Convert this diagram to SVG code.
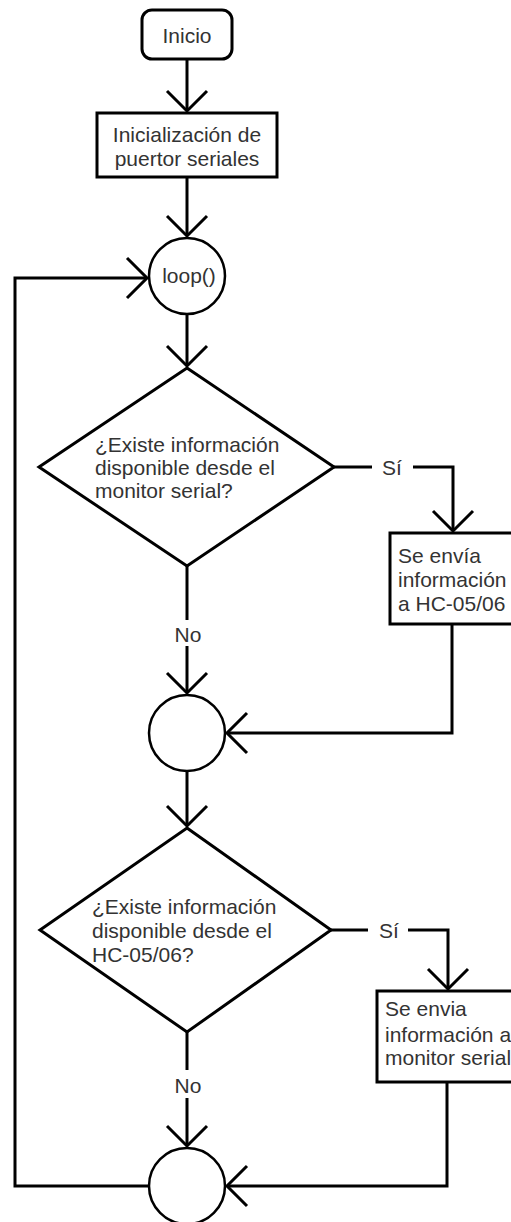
<svg xmlns="http://www.w3.org/2000/svg" width="511" height="1222" viewBox="0 0 511 1222">
<style>
.s{fill:#fff;stroke:#000;stroke-width:3}
.c{fill:#fff;stroke:#000;stroke-width:2.5}
.ln{fill:none;stroke:#000;stroke-width:3}
text{font-family:"Liberation Sans",Arial,sans-serif;font-size:21px;fill:#333}
.m{text-anchor:middle}
</style>
<defs>
<marker id="a" markerUnits="userSpaceOnUse" viewBox="-24 -24 28 48" markerWidth="28" markerHeight="48" refX="0" refY="0" orient="auto" overflow="visible">
<path d="M-20,-20 L0,0 L-20,20" fill="none" stroke="#000" stroke-width="3"/>
</marker>
</defs>
<rect width="511" height="1222" fill="#fff"/>
<g id="connectors">
<path class="ln" d="M187,59 V111" marker-end="url(#a)"/>
<path class="ln" d="M187,177 V236" marker-end="url(#a)"/>
<path class="ln" d="M149,1186 H15 V278 H147" marker-end="url(#a)"/>
<path class="ln" d="M187,314 V366" marker-end="url(#a)"/>
<path class="ln" d="M334,467 H372"/>
<path class="ln" d="M413,467 H453 V531" marker-end="url(#a)"/>
<path class="ln" d="M187,566 V620"/>
<path class="ln" d="M187,646 V693" marker-end="url(#a)"/>
<path class="ln" d="M452,624 V733 H227" marker-end="url(#a)"/>
<path class="ln" d="M187,771 V826" marker-end="url(#a)"/>
<path class="ln" d="M331,930 H368"/>
<path class="ln" d="M408,930 H448 V989" marker-end="url(#a)"/>
<path class="ln" d="M187,1032 V1070"/>
<path class="ln" d="M187,1098 V1146" marker-end="url(#a)"/>
<path class="ln" d="M447,1082 V1186 H227" marker-end="url(#a)"/>
<text class="m" x="392" y="475">Sí</text>
<text class="m" x="389" y="938">Sí</text>
<text class="m" x="188" y="642">No</text>
<text class="m" x="188" y="1093">No</text>
</g>
<g id="inicio">
<rect class="s" x="142" y="10" width="90" height="49" rx="10"/>
<text class="m" x="187" y="43">Inicio</text>
</g>
<g id="init">
<rect class="s" x="97" y="113" width="180" height="64"/>
<text class="m" x="187" y="142">Inicialización de</text>
<text class="m" x="187" y="166">puertor seriales</text>
</g>
<g id="loop">
<circle class="c" cx="187" cy="276" r="38"/>
<text class="m" x="189" y="283">loop()</text>
</g>
<g id="decision1">
<polygon class="s" points="187,368 334,467 187,566 39,467"/>
<text x="95" y="452">¿Existe información</text>
<text x="95" y="475">disponible desde el</text>
<text x="95" y="498">monitor serial?</text>
</g>
<g id="send1">
<rect class="s" x="390" y="533" width="140" height="91"/>
<text x="398" y="563">Se envía</text>
<text x="398" y="587">información</text>
<text x="398" y="611">a HC-05/06</text>
</g>
<g id="join1">
<circle class="c" cx="187" cy="733" r="38"/>
</g>
<g id="decision2">
<polygon class="s" points="187,828 331,930 187,1032 40,930"/>
<text x="92" y="914">¿Existe información</text>
<text x="92" y="938">disponible desde el</text>
<text x="92" y="962">HC-05/06?</text>
</g>
<g id="send2">
<rect class="s" x="377" y="991" width="150" height="91"/>
<text x="385" y="1016">Se envia</text>
<text x="385" y="1042">información a</text>
<text x="385" y="1065">monitor serial</text>
</g>
<g id="join2">
<circle class="c" cx="187" cy="1186" r="38"/>
</g>
</svg>
